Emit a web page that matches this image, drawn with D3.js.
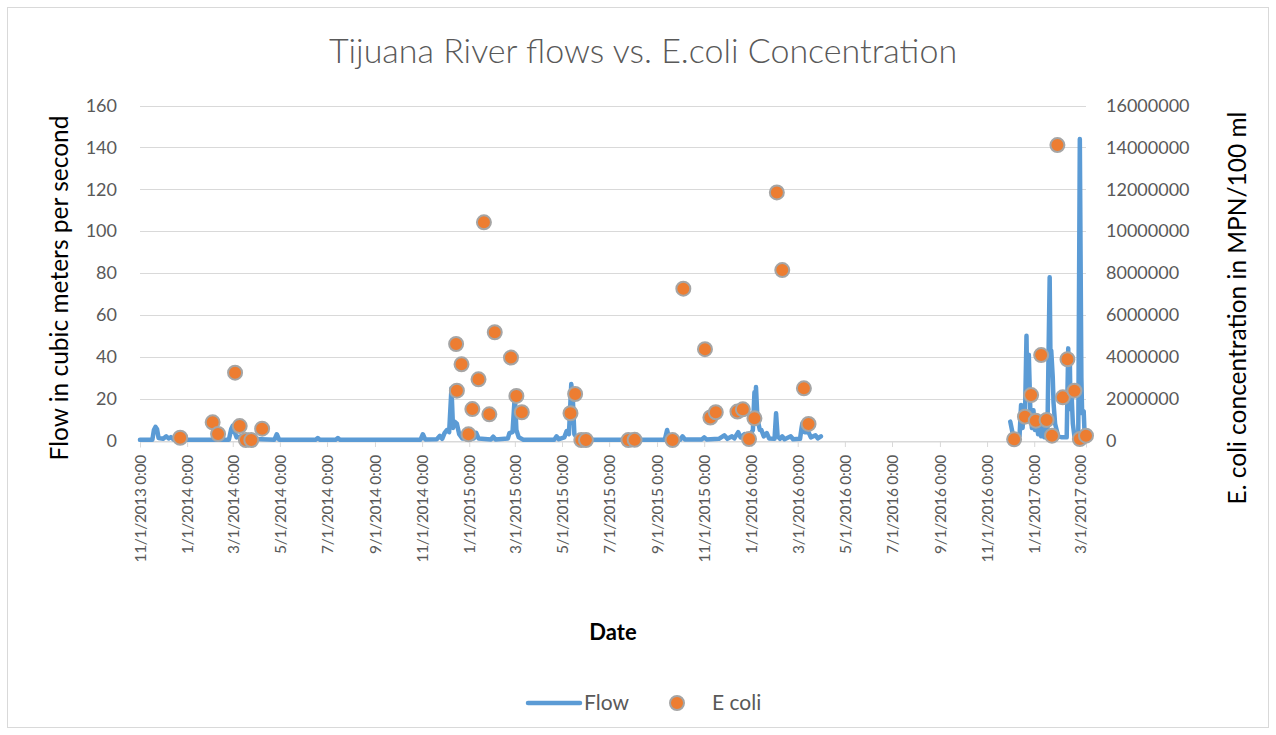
<!DOCTYPE html>
<html>
<head>
<meta charset="utf-8">
<script src="https://cdn.jsdelivr.net/npm/d3@7"></script>
<style>
  body { margin:0; background:#fff; }
  text { font-family: Lato, "Open Sans", sans-serif; }
</style>
</head>
<body>
<div id="chart"></div>
<script>
// daily flow, key points (null = no data)
var flowDates = [
  "2013-11-01","2013-11-17","2013-11-19","2013-11-21","2013-11-23","2013-11-25","2013-12-01","2013-12-05","2013-12-08","2013-12-11","2013-12-15",
  "2014-02-24","2014-02-27","2014-03-01","2014-03-03","2014-03-06","2014-03-12","2014-03-18","2014-04-24","2014-04-27","2014-04-30",
  "2014-06-16","2014-06-19","2014-06-22","2014-07-12","2014-07-15","2014-07-18","2014-10-30","2014-11-02","2014-11-05",
  "2014-11-20","2014-11-24","2014-11-27","2014-11-30","2014-12-03","2014-12-06","2014-12-09","2014-12-11","2014-12-13","2014-12-16","2014-12-19","2014-12-23",
  "2015-01-07","2015-01-10","2015-01-13","2015-01-29","2015-02-01","2015-02-04","2015-02-20","2015-02-22","2015-02-26","2015-03-01","2015-03-03","2015-03-06","2015-03-12",
  "2015-04-21","2015-04-24","2015-04-27","2015-05-04","2015-05-07","2015-05-10","2015-05-13","2015-05-15","2015-05-17","2015-05-22",
  "2015-09-11","2015-09-14","2015-09-17","2015-10-01","2015-10-04","2015-10-07","2015-10-29","2015-11-01","2015-11-04",
  "2015-11-20","2015-11-27","2015-12-01","2015-12-07","2015-12-10","2015-12-15","2015-12-18","2015-12-23","2015-12-27","2015-12-30",
  "2016-01-03","2016-01-05","2016-01-06","2016-01-07","2016-01-09","2016-01-12","2016-01-14","2016-01-17","2016-01-21","2016-01-24","2016-01-31",
  "2016-02-02","2016-02-04","2016-02-07","2016-02-10","2016-02-13","2016-02-21","2016-02-24","2016-03-04","2016-03-06","2016-03-07","2016-03-10",
  "2016-03-15","2016-03-18","2016-03-24","2016-03-27","2016-03-31","2016-04-01",
  "2016-12-01","2016-12-05","2016-12-09","2016-12-13","2016-12-15","2016-12-17","2016-12-18","2016-12-20","2016-12-22","2016-12-23","2016-12-25",
  "2016-12-27","2016-12-29","2016-12-31","2017-01-02","2017-01-04","2017-01-06","2017-01-08","2017-01-10","2017-01-12","2017-01-14","2017-01-16",
  "2017-01-18","2017-01-21","2017-01-22","2017-01-23","2017-01-25","2017-01-26","2017-01-28","2017-02-01","2017-02-06","2017-02-12","2017-02-14",
  "2017-02-15","2017-02-16","2017-02-17","2017-02-18","2017-02-20","2017-02-22","2017-02-25","2017-02-27","2017-03-01","2017-03-03","2017-03-04",
  "2017-03-06","2017-03-07","2017-03-09"
];
var flowCms = [
  0.3,0.4,5.0,6.5,5.5,1.2,0.8,2.0,1.0,1.6,0.4,
  0.4,5.5,7.0,4.5,1.5,2.0,0.8,0.4,3.0,0.4,
  0.3,1.2,0.3,0.3,1.2,0.3,0.4,3.0,0.5,
  0.6,2.2,0.8,3.5,5.0,4.0,25.0,6.0,9.0,8.0,3.0,1.0,
  1.0,3.7,1.0,0.5,1.8,0.5,1.0,3.5,4.0,21.7,5.0,1.5,0.4,
  0.4,2.0,0.6,1.5,4.5,3.0,27.0,20.0,3.0,0.4,
  0.4,5.0,0.5,0.4,2.0,0.5,0.5,1.5,0.5,
  0.8,2.5,0.8,2.0,1.0,4.0,1.5,3.0,1.0,2.5,
  5.0,23.0,8.0,25.5,10.0,5.0,5.0,2.0,3.5,1.0,0.8,
  13.0,2.0,0.8,2.0,0.6,2.0,0.6,0.8,6.0,8.2,4.0,
  4.0,1.5,2.5,1.0,2.0,null,
  9.0,1.8,null,2.0,17.0,6.0,14.0,10.0,50.0,22.0,41.0,
  14.0,6.0,14.5,5.0,10.0,3.0,6.0,2.0,9.0,1.5,6.0,
  2.0,78.0,40.0,43.0,30.0,18.0,8.0,2.0,1.5,1.5,44.0,
  20.0,40.0,15.0,25.0,8.0,2.0,3.0,2.0,144.0,30.0,13.0,
  14.0,5.0,0.5
];

// E. coli samples
var ecoliDates = [
  "2013-12-23","2014-02-03","2014-02-10","2014-03-04","2014-03-10","2014-03-18","2014-03-25","2014-04-08",
  "2014-12-15","2014-12-16","2014-12-22","2014-12-31","2015-01-05","2015-01-13","2015-01-20","2015-01-27",
  "2015-02-03","2015-02-24","2015-03-03","2015-03-10","2015-05-12","2015-05-18","2015-05-26","2015-06-01",
  "2015-07-26","2015-08-03","2015-09-21","2015-10-05","2015-11-02","2015-11-09","2015-11-16","2015-12-14",
  "2015-12-21","2015-12-29","2016-01-05","2016-02-03","2016-02-10","2016-03-09","2016-03-15",
  "2016-12-06","2016-12-20","2016-12-28","2017-01-03","2017-01-10","2017-01-17","2017-01-24","2017-01-31",
  "2017-02-07","2017-02-13","2017-02-22","2017-03-01","2017-03-09"
];
var ecoliMpn = [
  130000,870000,310000,3240000,690000,20000,20000,565000,
  4610000,2380000,3640000,296000,1500000,2920000,10420000,1250000,
  5170000,3960000,2130000,1350000,1300000,2220000,20000,20000,
  20000,30000,20000,7250000,4360000,1100000,1350000,1380000,
  1490000,70000,1060000,11850000,8140000,2490000,790000,
  57000,1140000,2170000,946000,4080000,980000,230000,14110000,
  2060000,3880000,2380000,70000,230000
];

var flowTicks = [0,20,40,60,80,100,120,140,160];
var ecoliTicks = [0,2000000,4000000,6000000,8000000,10000000,12000000,14000000,16000000];
var dateRange = ["2013-11-01","2017-03-09"];

var width = 1276, height = 735,
  margin = {top:105.5, left:140, bottom:294.5, right:190};

var parse = d3.utcParse("%Y-%m-%d");

var flow = flowDates.map(function(d,i) { return {date:parse(d), value:flowCms[i]}; });
var ecoli = ecoliDates.map(function(d,i) { return {date:parse(d), value:ecoliMpn[i]}; });

var x = d3.scaleUtc()
  .domain(dateRange.map(parse))
  .range([margin.left, width - margin.right]);

var yFlow = d3.scaleLinear()
  .domain([0,160])
  .range([height - margin.bottom, margin.top]);

var yEcoli = d3.scaleLinear()
  .domain([0,16000000])
  .range([height - margin.bottom, margin.top]);

var svg = d3.select('#chart')
  .append('svg')
  .attr('width', width)
  .attr('height', height);

svg.append('rect')
  .attr('x', 7.5).attr('y', 7.5)
  .attr('width', 1261).attr('height', 720)
  .attr('fill', '#fff')
  .attr('stroke', '#d9d9d9');

// title
svg.append('text')
  .attr('x', 643).attr('y', 63)
  .attr('text-anchor', 'middle')
  .style('font-size', '34px')
  .style('font-weight', '300')
  .style('fill', '#595959')
  .text('Tijuana River flows vs. E.coli Concentration');

// gridlines
svg.append('g')
  .selectAll('line')
  .data(flowTicks)
  .enter()
  .append('line')
  .attr('x1', margin.left)
  .attr('x2', width - margin.right)
  .attr('y1', function(d) { return Math.round(yFlow(d)) + 0.5; })
  .attr('y2', function(d) { return Math.round(yFlow(d)) + 0.5; })
  .attr('stroke', '#d9d9d9')
  .attr('stroke-width', 1);

// left axis
var leftAxis = svg.append('g')
  .attr('transform', 'translate(' + margin.left + ',0)')
  .call(d3.axisLeft(yFlow).tickValues(flowTicks).tickSize(0).tickPadding(23));
leftAxis.select('.domain').remove();
leftAxis.selectAll('text').style('font-size','18px').style('fill','#595959').style('font-family','Lato, sans-serif');

// right axis
var rightAxis = svg.append('g')
  .attr('transform', 'translate(' + (width - margin.right) + ',0)')
  .call(d3.axisRight(yEcoli).tickValues(ecoliTicks).tickSize(0).tickPadding(20).tickFormat(d3.format('d')));
rightAxis.select('.domain').remove();
rightAxis.selectAll('text').style('font-size','18px').style('fill','#595959').style('font-family','Lato, sans-serif');

// bottom axis
var bottomAxis = svg.append('g')
  .attr('transform', 'translate(0,' + Math.round(yFlow(0)) + ')')
  .call(d3.axisBottom(x).ticks(d3.utcMonth.every(2)).tickSize(6).tickFormat(d3.utcFormat('%-m/%-d/%Y %-H:%M')));
bottomAxis.select('.domain').attr('stroke', '#d9d9d9').attr('transform','translate(0,0.5)');
bottomAxis.selectAll('.tick line').attr('stroke', '#d9d9d9');
bottomAxis.selectAll('text')
  .style('font-size','15.5px').style('letter-spacing','-0.3px')
  .style('fill','#595959').style('font-family','Lato, sans-serif')
  .attr('text-anchor', 'end')
  .attr('transform', 'rotate(-90)')
  .attr('x', -14).attr('y', 0).attr('dy', '0.35em');

// flow line
var line = d3.line()
  .defined(function(d) { return d.value != null; })
  .x(function(d) { return x(d.date); })
  .y(function(d) { return yFlow(d.value); });

svg.append('path')
  .datum(flow)
  .attr('d', line)
  .attr('fill', 'none')
  .attr('stroke', '#5b9bd5')
  .attr('stroke-width', 4.5)
  .attr('stroke-linejoin', 'round')
  .attr('stroke-linecap', 'round');

// e coli points
svg.append('g')
  .selectAll('circle')
  .data(ecoli)
  .enter()
  .append('circle')
  .attr('cx', function(d) { return x(d.date); })
  .attr('cy', function(d) { return yEcoli(d.value); })
  .attr('r', 7)
  .attr('fill', '#ed7d31')
  .attr('stroke', '#a5a5a5')
  .attr('stroke-width', 2);

// axis titles
svg.append('text')
  .attr('transform', 'translate(68,' + ((margin.top + height - margin.bottom)/2 + 15) + ') rotate(-90)')
  .attr('text-anchor', 'middle')
  .style('font-size', '24.5px')
  .style('fill', '#000')
  .text('Flow in cubic meters per second');

svg.append('text')
  .attr('transform', 'translate(1246,' + ((margin.top + height - margin.bottom)/2 + 35) + ') rotate(-90)')
  .attr('text-anchor', 'middle')
  .style('font-size', '24.5px')
  .style('fill', '#000')
  .text('E. coli concentration in MPN/100 ml');

svg.append('text')
  .attr('x', (margin.left + width - margin.right)/2)
  .attr('y', 640)
  .attr('text-anchor', 'middle')
  .style('font-size', '22px')
  .style('font-weight', 'bold')
  .style('fill', '#000')
  .text('Date');

// legend
var legend = svg.append('g');
legend.append('line')
  .attr('x1', 528).attr('x2', 580)
  .attr('y1', 703).attr('y2', 703)
  .attr('stroke', '#5b9bd5')
  .attr('stroke-width', 4.5)
  .attr('stroke-linecap', 'round');
legend.append('text')
  .attr('x', 584).attr('y', 710)
  .style('font-size', '21px')
  .style('fill', '#595959')
  .text('Flow');
legend.append('circle')
  .attr('cx', 677).attr('cy', 703)
  .attr('r', 7)
  .attr('fill', '#ed7d31')
  .attr('stroke', '#a5a5a5')
  .attr('stroke-width', 2);
legend.append('text')
  .attr('x', 712).attr('y', 710)
  .style('font-size', '21px')
  .style('fill', '#595959')
  .text('E coli');
</script>
</body>
</html>
